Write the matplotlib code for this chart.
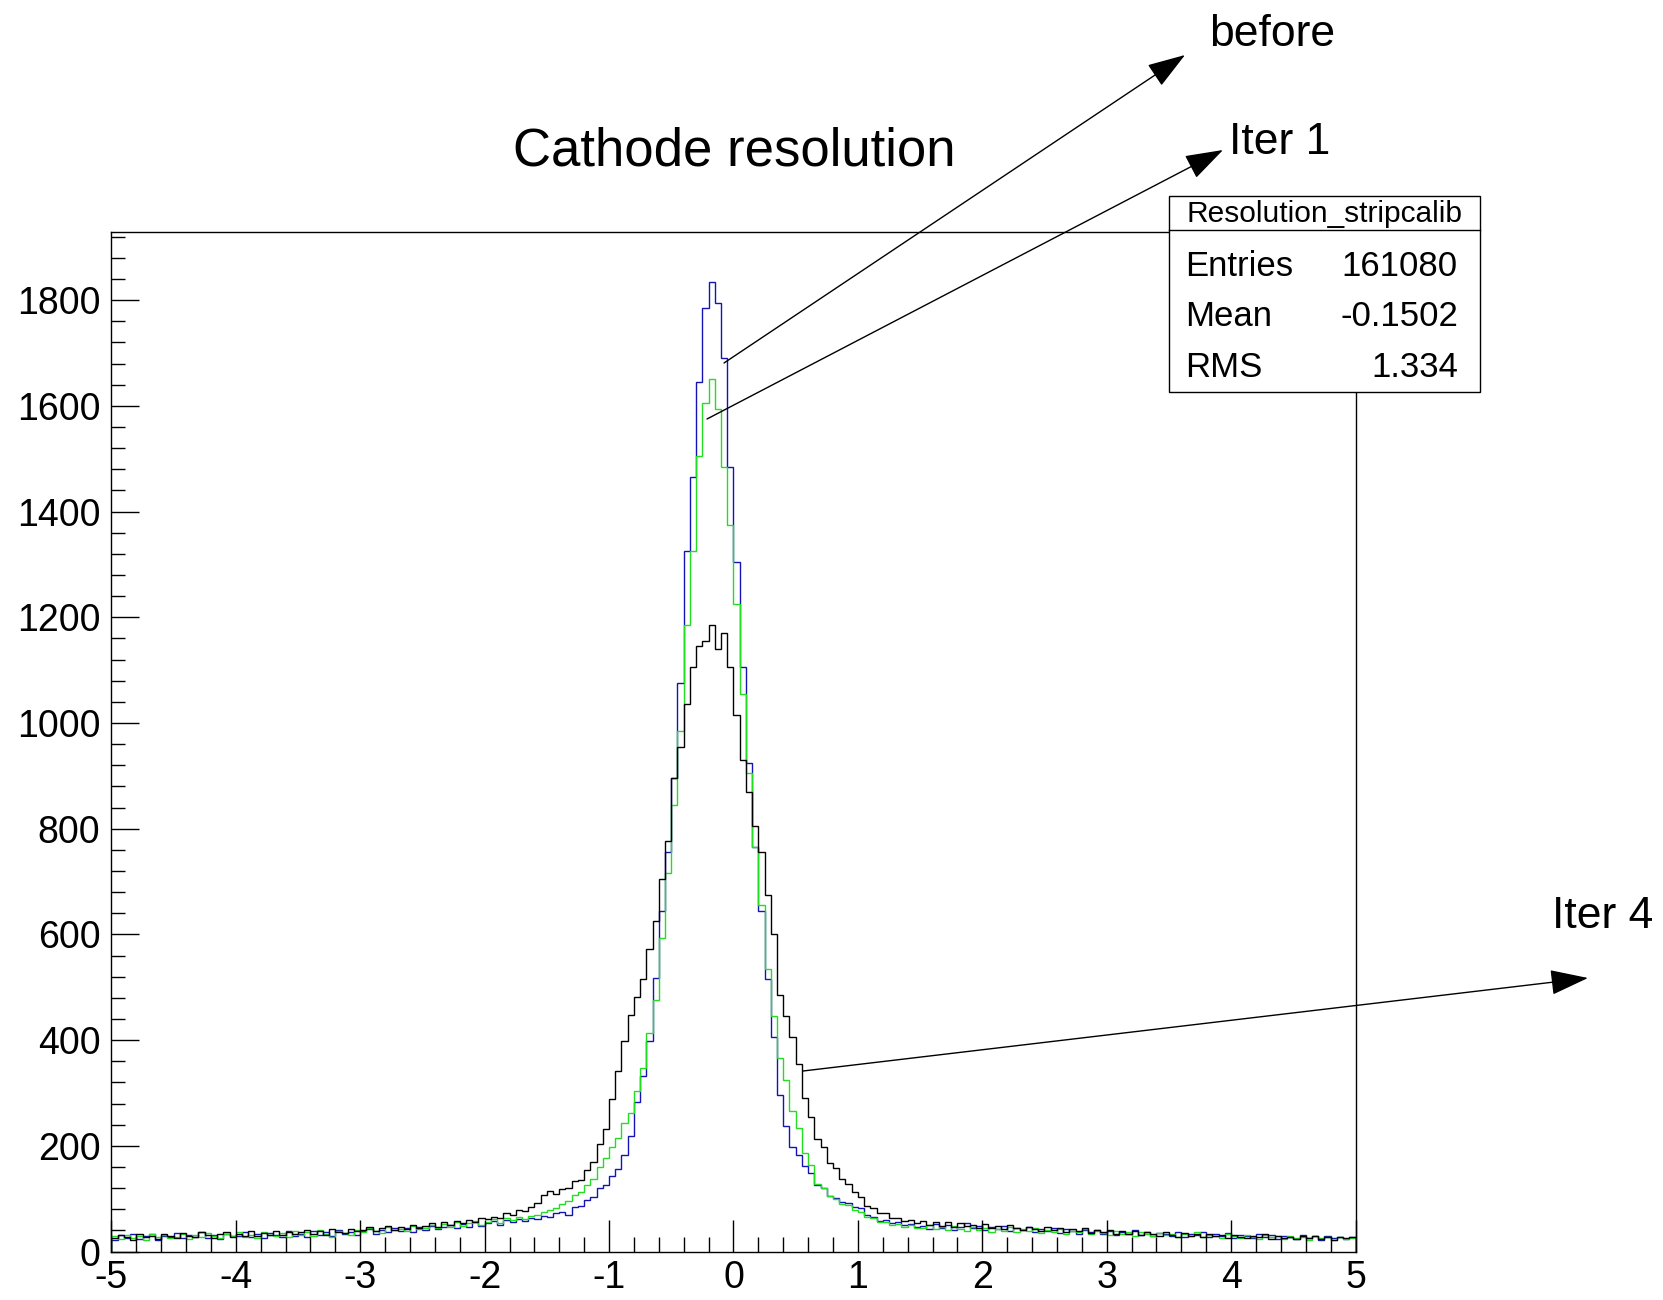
import numpy as np
import matplotlib
matplotlib.use("Agg")
import matplotlib.pyplot as plt
from matplotlib.patches import Rectangle, FancyArrowPatch
from matplotlib.lines import Line2D
from matplotlib.ticker import MultipleLocator

plt.rcParams["font.family"] = ["Liberation Sans", "DejaVu Sans"]
plt.rcParams["axes.unicode_minus"] = False

# histogram binning: 200 bins of 0.05 from -5 to 5
X_LO, X_HI, N_BINS = -5.0, 5.0, 200

# "before" (blue)
BEFORE = [
    22, 31, 26, 34, 24, 29, 33, 21, 30, 27,
    35, 25, 31, 28, 36, 26, 32, 24, 34, 29,
    30, 37, 27, 33, 25, 35, 31, 28, 38, 30,
    34, 27, 39, 32, 36, 29, 40, 33, 37, 31,
    38, 43, 34, 41, 36, 45, 39, 44, 37, 47,
    41, 49, 43, 46, 51, 44, 52, 47, 55, 49,
    53, 58, 51, 60, 56, 62, 57, 64, 61, 67,
    66, 72, 75, 70, 84, 86, 98, 104, 120, 126,
    142, 156, 182, 218, 282, 332, 398, 518, 645, 755,
    895, 1075, 1325, 1465, 1645, 1785, 1835, 1795, 1690, 1485,
    1305, 1105, 925, 765, 645, 515, 405, 296, 238, 197,
    183, 162, 148, 125, 120, 105, 102, 93, 91, 84,
    82, 69, 66, 58, 60, 53, 55, 51, 52, 46,
    49, 43, 52, 45, 50, 41, 47, 53, 44, 48,
    40, 46, 42, 49, 38, 45, 41, 47, 36, 43,
    39, 45, 35, 42, 38, 33, 41, 36, 40, 34,
    38, 31, 37, 34, 40, 32, 36, 29, 35, 33,
    30, 37, 28, 34, 31, 36, 27, 33, 29, 35,
    26, 32, 30, 25, 34, 28, 31, 24, 30, 27,
    23, 31, 26, 29, 22, 30, 25, 28, 24, 27,
]

# "Iter 1" (green)
ITER1 = [
    29, 23, 32, 26, 30, 22, 34, 27, 31, 25,
    28, 34, 24, 32, 27, 35, 29, 26, 33, 30,
    36, 28, 32, 26, 37, 31, 29, 35, 27, 38,
    32, 36, 30, 40, 34, 28, 38, 35, 31, 41,
    37, 44, 39, 35, 46, 40, 43, 38, 48, 42,
    45, 50, 44, 52, 47, 55, 49, 53, 57, 51,
    56, 61, 54, 63, 59, 66, 62, 68, 70, 75,
    79, 83, 90, 95, 106, 112, 126, 138, 160, 176,
    198, 215, 243, 262, 304, 347, 413, 476, 594, 716,
    845, 985, 1185, 1325, 1505, 1605, 1650, 1595, 1485, 1375,
    1225, 1055, 905, 765, 655, 535, 445, 366, 324, 266,
    233, 187, 163, 128, 121, 105, 100, 90, 88, 78,
    74, 66, 64, 56, 56, 50, 52, 46, 51, 44,
    44, 50, 42, 47, 40, 48, 43, 38, 46, 41,
    45, 37, 43, 39, 47, 36, 42, 38, 44, 35,
    41, 37, 43, 34, 39, 36, 42, 33, 38, 35,
    32, 39, 34, 37, 30, 36, 33, 29, 35, 31,
    34, 28, 33, 30, 36, 27, 32, 29, 26, 33,
    30, 25, 31, 28, 24, 32, 27, 29, 23, 30,
    26, 28, 22, 29, 25, 27, 21, 28, 24, 26,
]

# "Iter 4" (black)
ITER4 = [
    25, 32, 28, 21, 33, 27, 30, 24, 34, 29,
    26, 35, 30, 27, 37, 31, 25, 33, 36, 28,
    34, 30, 38, 29, 35, 32, 39, 31, 37, 33,
    36, 41, 34, 39, 32, 42, 37, 35, 43, 38,
    40, 46, 38, 44, 49, 41, 47, 43, 51, 45,
    48, 54, 47, 56, 50, 58, 53, 60, 55, 63,
    61, 66, 64, 72, 69, 78, 76, 85, 92, 106,
    114, 108, 118, 120, 133, 136, 155, 170, 203, 232,
    288, 342, 398, 447, 481, 516, 572, 626, 704, 776,
    895, 955, 1035, 1105, 1145, 1155, 1185, 1140, 1170, 1105,
    1015, 930, 870, 805, 755, 675, 600, 485, 445, 405,
    355, 290, 255, 212, 198, 167, 158, 137, 128, 112,
    103, 86, 82, 73, 72, 63, 64, 57, 60, 53,
    58, 50, 55, 48, 56, 46, 53, 49, 51, 45,
    52, 44, 48, 42, 50, 45, 41, 47, 43, 39,
    46, 40, 44, 37, 42, 38, 45, 35, 41, 36,
    40, 34, 38, 33, 39, 31, 37, 34, 30, 36,
    32, 28, 35, 30, 33, 27, 34, 29, 31, 26,
    32, 28, 25, 30, 27, 33, 24, 29, 26, 28,
    23, 29, 26, 30, 24, 27, 22, 28, 25, 27,
]

STATS_NAME = "Resolution_stripcalib"
STATS_ROWS = [("Entries", "161080"), ("Mean", "-0.1502"), ("RMS", "1.334")]

W, H = 1663, 1300
fig = plt.figure(figsize=(W / 100, H / 100), dpi=100)
ax = fig.add_axes([111.4 / W, 48.5 / H, (1355.5 - 111.4) / W, (1251.5 - 232) / H])

edges = np.linspace(X_LO, X_HI, N_BINS + 1)
ax.stairs(BEFORE, edges, color="#1414b4", lw=1.0)
ax.stairs(ITER1, edges, color="#22dd22", lw=1.0)
ax.stairs(ITER4, edges, color="black", lw=1.0)

ax.set_xlim(X_LO, X_HI)
ax.set_ylim(0, 1929)
ax.xaxis.set_major_locator(MultipleLocator(1))
ax.xaxis.set_minor_locator(MultipleLocator(0.2))
ax.yaxis.set_major_locator(MultipleLocator(200))
ax.yaxis.set_minor_locator(MultipleLocator(40))
ax.tick_params(axis="both", which="both", direction="in", top=False, right=False,
               labelsize=27, width=1)
ax.tick_params(axis="x", which="major", length=23, pad=6)
ax.tick_params(axis="x", which="minor", length=11)
ax.tick_params(axis="y", which="major", length=20, pad=8)
ax.tick_params(axis="y", which="minor", length=10)
for s in ax.spines.values():
    s.set_linewidth(1)

fig.text(734 / W, 1 - 152 / H, "Cathode resolution", ha="center", va="center", fontsize=38)

# stats box
bx0, bx1, by0, by1, bsep = 1169, 1480, 392, 196, 230
fig.add_artist(Rectangle((bx0 / W, 1 - by0 / H), (bx1 - bx0) / W, (by0 - by1) / H,
                         transform=fig.transFigure, fc="white", ec="black", lw=1, zorder=5))
fig.add_artist(Line2D([bx0 / W, bx1 / W], [1 - bsep / H, 1 - bsep / H],
                      transform=fig.transFigure, color="black", lw=1, zorder=6))
fig.text((bx0 + bx1) / 2 / W, 1 - 214 / H, STATS_NAME, ha="center", va="center",
         fontsize=21.5, zorder=7)
for (lab, val), yy in zip(STATS_ROWS, [267, 317, 368]):
    fig.text(1185 / W, 1 - yy / H, lab, ha="left", va="center", fontsize=25, zorder=7)
    fig.text(1458 / W, 1 - yy / H, val, ha="right", va="center", fontsize=25, zorder=7)


def pointer(tail, head, label, label_xy, ha="center"):
    fig.add_artist(FancyArrowPatch((tail[0] / W, 1 - tail[1] / H), (head[0] / W, 1 - head[1] / H),
                                   transform=fig.transFigure, arrowstyle="-|>,head_length=1.2,head_width=0.4",
                                   mutation_scale=20, lw=1, color="black", shrinkA=0, shrinkB=0, zorder=8))
    fig.text(label_xy[0] / W, 1 - label_xy[1] / H, label, ha=ha, va="center", fontsize=32)


pointer((724, 363), (1185, 55), "before", (1272, 34))
pointer((707, 419), (1223, 150), "Iter 1", (1280, 142))
pointer((803, 1071), (1588, 978), "Iter 4", (1552, 917), ha="left")

fig.savefig("out.png", dpi=100)
